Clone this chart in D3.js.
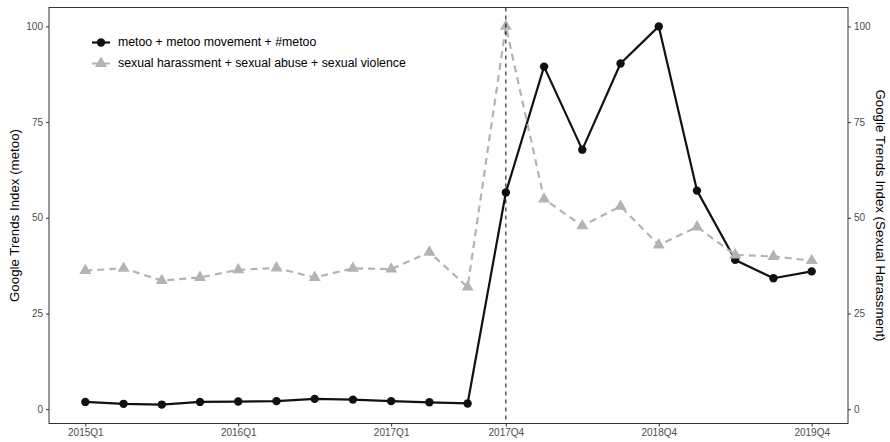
<!DOCTYPE html>
<html>
<head>
<meta charset="utf-8">
<script src="https://cdn.jsdelivr.net/npm/d3@7"></script>
<style>
  body { margin: 0; background: #fff; }
  text { font-family: "Liberation Sans", Arial, Helvetica, sans-serif; }
</style>
</head>
<body>
<svg id="chart" width="890" height="442"></svg>
<script>
// Quarterly Google Trends indices, 2015Q1 – 2019Q4
const quarters = [
  "2015Q1","2015Q2","2015Q3","2015Q4",
  "2016Q1","2016Q2","2016Q3","2016Q4",
  "2017Q1","2017Q2","2017Q3","2017Q4",
  "2018Q1","2018Q2","2018Q3","2018Q4",
  "2019Q1","2019Q2","2019Q3","2019Q4"
];
const metoo = [
  1.9, 1.4, 1.2, 1.9,
  2.0, 2.1, 2.7, 2.5,
  2.1, 1.8, 1.5, 56.6,
  89.5, 67.8, 90.3, 100,
  57.1, 39.0, 34.2, 36.0
];
const harassment = [
  36.2, 36.8, 33.6, 34.4,
  36.4, 36.9, 34.4, 36.8,
  36.6, 41.0, 31.9, 100,
  54.9, 47.9, 53.0, 42.9,
  47.6, 40.3, 39.9, 38.8
];
const seriesNames = [
  "metoo + metoo movement + #metoo",
  "sexual harassment + sexual abuse + sexual violence"
];
const xTickLabels = ["2015Q1","2016Q1","2017Q1","2017Q4","2018Q4","2019Q4"];
const yTickValues = [0, 25, 50, 75, 100];
const eventQuarter = "2017Q4";
const leftTitle = "Google Trends Index (metoo)";
const rightTitle = "Google Trends Index (Sexual Harassment)";

const svg = d3.select("#chart");
const panel = { left: 49, right: 848, top: 7.5, bottom: 423.5 };

// continuous scales with 5% padding on each side of the data range
const n = quarters.length;
const xPad = 0.05 * (n - 1);
const x = d3.scaleLinear()
  .domain([-xPad, n - 1 + xPad])
  .range([panel.left, panel.right]);

const allVals = metoo.concat(harassment);
const yMin = d3.min(allVals), yMax = d3.max(allVals);
const yPad = 0.05 * (yMax - yMin);
const y = d3.scaleLinear()
  .domain([yMin - yPad, yMax + yPad])
  .range([panel.bottom, panel.top]);

const qIndex = q => quarters.indexOf(q);

// axes
const tickColor = "#333333";
const labelColor = "#4d4d4d";

function styleAxis(g) {
  g.select(".domain").remove();
  g.selectAll(".tick line").attr("stroke", tickColor).attr("stroke-width", 1);
  g.selectAll(".tick text")
    .attr("fill", labelColor)
    .style("font-size", "10px")
    .style("font-family", '"Liberation Sans", Arial, sans-serif');
}

svg.append("g")
  .attr("transform", `translate(${panel.left},0)`)
  .call(d3.axisLeft(y).tickValues(yTickValues).tickSize(3).tickPadding(3))
  .call(styleAxis);

svg.append("g")
  .attr("transform", `translate(${panel.right},0)`)
  .call(d3.axisRight(y).tickValues(yTickValues).tickSize(3).tickPadding(3))
  .call(styleAxis);

svg.append("g")
  .attr("transform", `translate(0,${panel.bottom})`)
  .call(d3.axisBottom(x)
    .tickValues(xTickLabels.map(qIndex))
    .tickFormat(i => quarters[i])
    .tickSize(3).tickPadding(2))
  .call(styleAxis);

// axis titles
svg.append("text")
  .attr("transform", `translate(15,${(panel.top + panel.bottom) / 2}) rotate(-90)`)
  .attr("text-anchor", "middle")
  .attr("dominant-baseline", "middle")
  .attr("fill", "#000")
  .style("font-size", "13.3px")
  .text(leftTitle);

svg.append("text")
  .attr("transform", `translate(880,${(panel.top + panel.bottom) / 2}) rotate(90)`)
  .attr("text-anchor", "middle")
  .attr("dominant-baseline", "middle")
  .attr("fill", "#000")
  .style("font-size", "13.3px")
  .text(rightTitle);

// series
const black = "#111111";
const grey = "#b3b3b3";

const line = d3.line()
  .x((d, i) => x(i))
  .y(d => y(d));

const tri = d3.symbol().type(d3.symbolTriangle).size(62);

// metoo series
svg.append("path")
  .datum(metoo)
  .attr("d", line)
  .attr("fill", "none")
  .attr("stroke", black)
  .attr("stroke-width", 2.2)
  .attr("stroke-linejoin", "round");

svg.append("g").selectAll("circle")
  .data(metoo)
  .join("circle")
  .attr("cx", (d, i) => x(i))
  .attr("cy", d => y(d))
  .attr("r", 4.2)
  .attr("fill", black);

// sexual harassment series
svg.append("path")
  .datum(harassment)
  .attr("d", line)
  .attr("fill", "none")
  .attr("stroke", grey)
  .attr("stroke-width", 2.2)
  .attr("stroke-dasharray", "7,5");

svg.append("g").selectAll("path")
  .data(harassment)
  .join("path")
  .attr("d", tri)
  .attr("transform", (d, i) => `translate(${x(i)},${y(d)})`)
  .attr("fill", grey);

// event marker
svg.append("line")
  .attr("x1", x(qIndex(eventQuarter)))
  .attr("x2", x(qIndex(eventQuarter)))
  .attr("y1", panel.top)
  .attr("y2", panel.bottom)
  .attr("stroke", "#000")
  .attr("stroke-width", 1)
  .attr("stroke-dasharray", "4,4");

// panel border
svg.append("rect")
  .attr("x", panel.left)
  .attr("y", panel.top)
  .attr("width", panel.right - panel.left)
  .attr("height", panel.bottom - panel.top)
  .attr("fill", "none")
  .attr("stroke", "#333333")
  .attr("stroke-width", 1);

// legend
const legend = svg.append("g").attr("transform", "translate(92,42.5)");
const rowGap = 21;

legend.append("line")
  .attr("x1", 0).attr("x2", 18).attr("y1", 0).attr("y2", 0)
  .attr("stroke", black).attr("stroke-width", 2.2);
legend.append("circle")
  .attr("cx", 9).attr("cy", 0).attr("r", 4.2).attr("fill", black);
legend.append("text")
  .attr("x", 26).attr("y", 0)
  .attr("dominant-baseline", "middle")
  .style("font-size", "12.3px")
  .attr("fill", "#000")
  .text(seriesNames[0]);

legend.append("line")
  .attr("x1", 0).attr("x2", 18).attr("y1", rowGap).attr("y2", rowGap)
  .attr("stroke", grey).attr("stroke-width", 2.2)
  .attr("stroke-dasharray", "7,5");
legend.append("path")
  .attr("d", tri)
  .attr("transform", `translate(9,${rowGap})`)
  .attr("fill", grey);
legend.append("text")
  .attr("x", 26).attr("y", rowGap)
  .attr("dominant-baseline", "middle")
  .style("font-size", "12.3px")
  .attr("fill", "#000")
  .text(seriesNames[1]);
</script>
</body>
</html>
